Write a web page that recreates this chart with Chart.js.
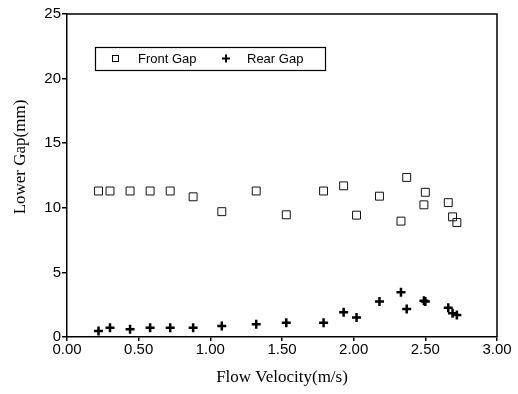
<!DOCTYPE html>
<html>
<head>
<meta charset="utf-8">
<script src="https://cdn.jsdelivr.net/npm/chart.js@4.4.0/dist/chart.umd.min.js"></script>
<style>
  html, body { margin: 0; padding: 0; background: #fff; }
  #wrap { width: 518px; height: 394px; }
</style>
</head>
<body>
<div id="wrap"><canvas id="gap-chart"></canvas></div>
<script>
// flow velocity (m/s) for each measurement
const velocity = [0.22, 0.30, 0.44, 0.58, 0.72, 0.88, 1.08, 1.32, 1.53, 1.79,
                  1.93, 2.02, 2.18, 2.33, 2.37, 2.50, 2.49, 2.66, 2.69, 2.72];
const frontGap = [11.3, 11.3, 11.3, 11.3, 11.3, 10.85, 9.7, 11.3, 9.46, 11.3,
                  11.7, 9.43, 10.9, 8.97, 12.35, 11.2, 10.23, 10.4, 9.3, 8.86];
const rearGap  = [0.47, 0.72, 0.6, 0.72, 0.72, 0.72, 0.85, 0.98, 1.1, 1.1,
                  1.91, 1.5, 2.74, 3.46, 2.17, 2.74, 2.8, 2.27, 1.84, 1.7];
const seriesNames = ['Front Gap', 'Rear Gap'];
const xTicks = [0, 0.5, 1, 1.5, 2, 2.5, 3];
const yTicks = [0, 5, 10, 15, 20, 25];

function toPoints(xs, ys){
    return xs.map((x, i) => ({x: x, y: ys[i]}));
}

const sans = "'Liberation Sans', Arial, sans-serif";
const serif = "'Liberation Serif', 'Times New Roman', serif";

// frame, axis titles and the boxed legend inside the plot
const decorations = {
    id: 'decorations',
    afterDraw(chart){
        const ctx = chart.ctx;
        const a = chart.chartArea;
        ctx.save();
        ctx.strokeStyle = '#000';
        ctx.lineWidth = 1.5;
        ctx.beginPath();
        ctx.moveTo(a.left, a.top);
        ctx.lineTo(a.right, a.top);
        ctx.lineTo(a.right, a.bottom);
        ctx.stroke();

        ctx.fillStyle = '#000';
        ctx.font = '17px ' + serif;
        ctx.textAlign = 'center';
        ctx.textBaseline = 'middle';
        ctx.fillText('Flow Velocity(m/s)', (a.left + a.right) / 2, 378);
        ctx.save();
        ctx.translate(21, 157);
        ctx.rotate(-Math.PI / 2);
        ctx.fillText('Lower Gap(mm)', 0, 0);
        ctx.restore();

        // legend
        ctx.lineWidth = 1.2;
        ctx.strokeRect(95.5, 47.5, 230, 23);
        ctx.lineWidth = 1;
        ctx.strokeRect(112.5, 55.5, 6, 6);
        ctx.font = '13px ' + sans;
        ctx.textAlign = 'left';
        ctx.fillText(seriesNames[0], 138, 59);
        ctx.lineWidth = 2;
        ctx.beginPath();
        ctx.moveTo(222, 58.5); ctx.lineTo(230, 58.5);
        ctx.moveTo(226, 54.5); ctx.lineTo(226, 62.5);
        ctx.stroke();
        ctx.fillText(seriesNames[1], 247, 59);
        ctx.restore();
    }
};

const chart_data = {
    datasets: [
        {
            label: seriesNames[0],
            data: toPoints(velocity, frontGap),
            pointStyle: 'rect',
            pointRadius: 5.6,
            pointBorderWidth: 1,
            borderColor: '#111',
            backgroundColor: 'rgba(255,255,255,0)',
            showLine: false
        },
        {
            label: seriesNames[1],
            data: toPoints(velocity, rearGap),
            pointStyle: 'cross',
            pointRadius: 4.5,
            pointBorderWidth: 2.5,
            borderColor: '#000',
            backgroundColor: '#000',
            showLine: false
        }
    ]
};

const options = {
    responsive: false,
    animation: false,
    layout: { padding: { left: 0, top: 14, right: 21, bottom: 0 } },
    plugins: {
        legend: { display: false },
        tooltip: { enabled: false }
    },
    scales: {
        x: {
            type: 'linear',
            min: 0,
            max: 3,
            afterFit: (s) => { s.height = 57; },
            afterBuildTicks: (s) => { s.ticks = xTicks.map(v => ({value: v})); },
            grid: { drawOnChartArea: false, color: '#000', tickLength: 4, lineWidth: 1.5 },
            border: { color: '#000', width: 1.5 },
            ticks: {
                color: '#000',
                padding: 0,
                maxRotation: 0,
                font: { family: sans, size: 15 },
                callback: (v) => v.toFixed(2)
            }
        },
        y: {
            min: 0,
            max: 25,
            afterFit: (s) => { s.width = 67; },
            afterBuildTicks: (s) => { s.ticks = yTicks.map(v => ({value: v})); },
            grid: { drawOnChartArea: false, color: '#000', tickLength: 5, lineWidth: 1.5 },
            border: { color: '#000', width: 1.5 },
            ticks: {
                color: '#000',
                padding: 1,
                font: { family: sans, size: 15 }
            }
        }
    }
};

const canvas = document.getElementById('gap-chart');
canvas.width = 518;
canvas.height = 394;
new Chart(canvas.getContext('2d'), {
    type: 'scatter',
    data: chart_data,
    options: options,
    plugins: [decorations]
});
</script>
</body>
</html>
